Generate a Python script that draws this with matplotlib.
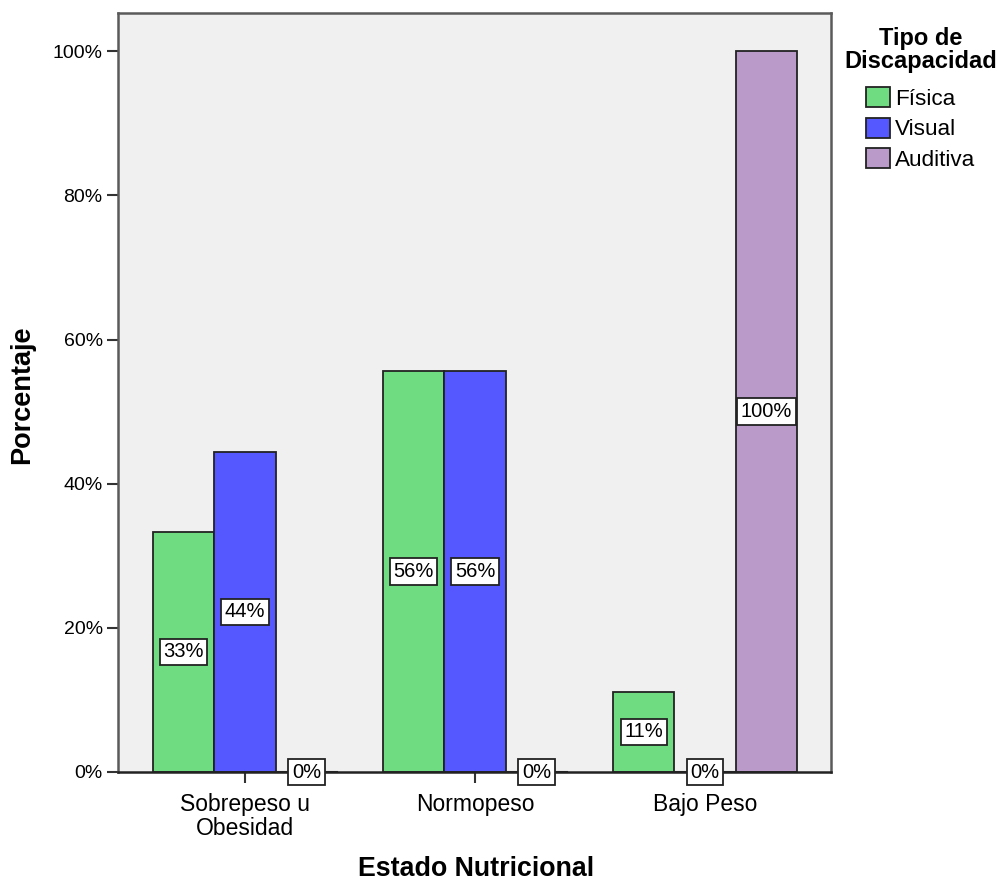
import numpy as np
import matplotlib.pyplot as plt

plt.rcParams['font.family'] = ['Liberation Sans', 'DejaVu Sans']

# porcentaje por estado nutricional y tipo de discapacidad
estados = ['Sobrepeso u\nObesidad', 'Normopeso', 'Bajo Peso']
fisica = [33.3, 55.6, 11.1]
visual = [44.4, 55.6, 0.0]
auditiva = [0.0, 0.0, 100.0]
tipos = ['Física', 'Visual', 'Auditiva']
colores = ['#70dc82', '#5558ff', '#b99ac9']

fig = plt.figure(figsize=(10.01, 8.82), dpi=100)
ax = fig.add_axes([118 / 1001, 1 - 772 / 882, (831 - 118) / 1001, (772 - 13) / 882])
ax.set_facecolor('#f0f0f0')

x = np.arange(len(estados))
w = 0.267
series = [fisica, visual, auditiva]
for i, (vals, nombre, col) in enumerate(zip(series, tipos, colores)):
    pos = x + (i - 1) * w
    ax.bar(pos, vals, width=w, color=col, edgecolor='#222222', linewidth=1.3,
           label=nombre, zorder=2)
    for xp, v in zip(pos, vals):
        if v == 0:
            # barra vacía: solo una línea sobre el eje
            ax.plot([xp - w / 2, xp + w / 2], [0, 0], color='#222222', lw=1.5,
                    zorder=3, clip_on=False)
        ax.text(xp, v / 2, f'{v:.0f}%', ha='center', va='center', fontsize=14.5,
                zorder=4, clip_on=False,
                bbox=dict(boxstyle='square,pad=0.18', fc='white', ec='#222222', lw=1.3))

ax.set_xlim(-0.552, 2.547)
ax.set_ylim(0, 105.3)
ax.set_yticks(np.arange(0, 101, 20))
ax.set_yticklabels([f'{t}%' for t in range(0, 101, 20)])
ax.set_xticks(x)
ax.set_xticklabels(estados, linespacing=1.05)
ax.tick_params(axis='both', length=8, width=1.5, color='#333333')
ax.tick_params(axis='y', labelsize=14, pad=3)
ax.tick_params(axis='x', labelsize=16.5, pad=7)

for s in ['top', 'right', 'left']:
    ax.spines[s].set_color('#5a5a5a')
    ax.spines[s].set_linewidth(1.8)
ax.spines['bottom'].set_color('#222222')
ax.spines['bottom'].set_linewidth(1.8)

fig.text(22 / 1001, 1 - 395 / 882, 'Porcentaje', rotation=90, ha='center',
         va='center', fontsize=19.5, fontweight='bold')
fig.text(476 / 1001, 1 - 876 / 882, 'Estado Nutricional', ha='center',
         va='baseline', fontsize=19.3, fontweight='bold')

fig.text(921 / 1001, 1 - 50 / 882, 'Tipo de\nDiscapacidad', ha='center', va='center',
         fontsize=17, fontweight='bold', linespacing=0.95)
leg = ax.legend(loc='upper left', bbox_to_anchor=(866 / 1001, 1 - 87 / 882),
                bbox_transform=fig.transFigure, frameon=False, fontsize=16.2,
                handlelength=1.05, handleheight=1.0, handletextpad=0.25,
                labelspacing=0.35, borderpad=0, borderaxespad=0)

fig.savefig('out.png', dpi=100)
